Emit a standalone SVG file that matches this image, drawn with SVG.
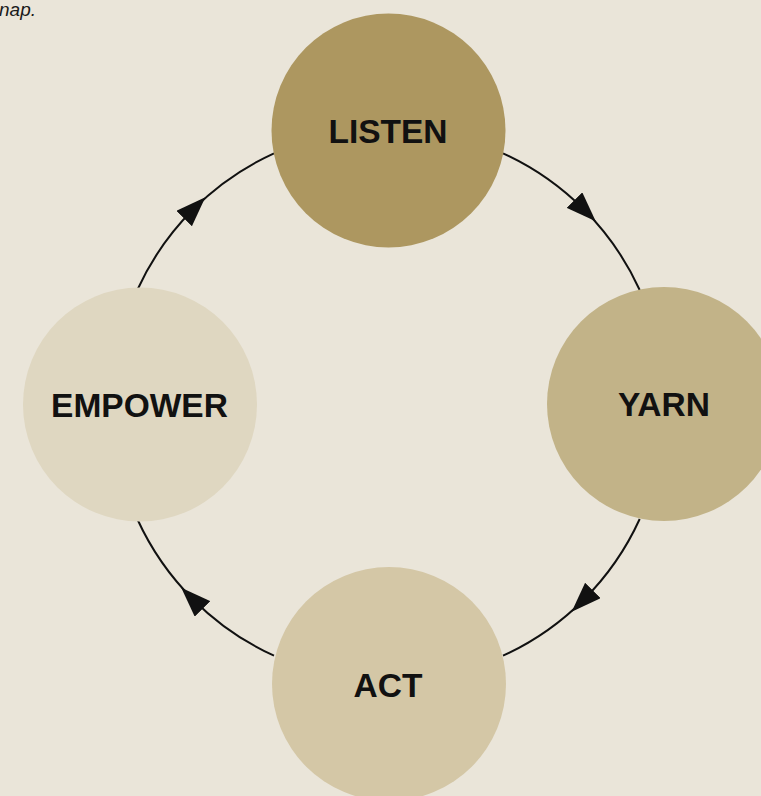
<svg xmlns="http://www.w3.org/2000/svg" width="761" height="796" viewBox="0 0 761 796">
  <style>
    .bg { fill: #EAE5D9; }
    .link { fill: none; stroke: #111111; stroke-width: 2; }
    .label { font-family: "Liberation Sans", Arial, sans-serif; font-weight: bold; font-size: 33.5px; fill: #111111; text-anchor: middle; }
    .caption { font-family: "Liberation Sans", Arial, sans-serif; font-style: italic; font-size: 19px; fill: #1a1a1a; }
  </style>
  <defs>
    <marker id="arrow" viewBox="0 0 30 22" refX="13" refY="11" markerWidth="30" markerHeight="22" markerUnits="userSpaceOnUse" orient="auto">
      <path d="M0,0 L30,11 L0,22 Z" fill="#111111"/>
    </marker>
  </defs>
  <rect class="bg" x="0" y="0" width="761" height="796"/>
  <text class="caption" x="-1" y="16">nap.</text>
  <g id="connectors">
    <path class="link" marker-mid="url(#arrow)" d="M503.0,153.3 A276,276 0 0 1 583.7,209.3 A276,276 0 0 1 639.7,290.0"/>
    <path class="link" marker-mid="url(#arrow)" d="M639.7,519.0 A276,276 0 0 1 583.7,599.7 A276,276 0 0 1 503.0,655.7"/>
    <path class="link" marker-mid="url(#arrow)" d="M274.0,655.7 A276,276 0 0 1 193.3,599.7 A276,276 0 0 1 137.3,519.0"/>
    <path class="link" marker-mid="url(#arrow)" d="M137.3,290.0 A276,276 0 0 1 193.3,209.3 A276,276 0 0 1 274.0,153.3"/>
  </g>
  <g id="listen">
    <circle cx="388.5" cy="130.5" r="117" fill="#AD9760"/>
    <text class="label" x="388" y="142.5">LISTEN</text>
  </g>
  <g id="yarn">
    <circle cx="664" cy="404" r="117" fill="#C2B388"/>
    <text class="label" x="664" y="416">YARN</text>
  </g>
  <g id="act">
    <circle cx="389" cy="684" r="117" fill="#D4C7A6"/>
    <text class="label" x="388" y="696.5">ACT</text>
  </g>
  <g id="empower">
    <circle cx="140" cy="404.5" r="117" fill="#DFD7C1"/>
    <text class="label" x="139.5" y="416.5">EMPOWER</text>
  </g>
</svg>
